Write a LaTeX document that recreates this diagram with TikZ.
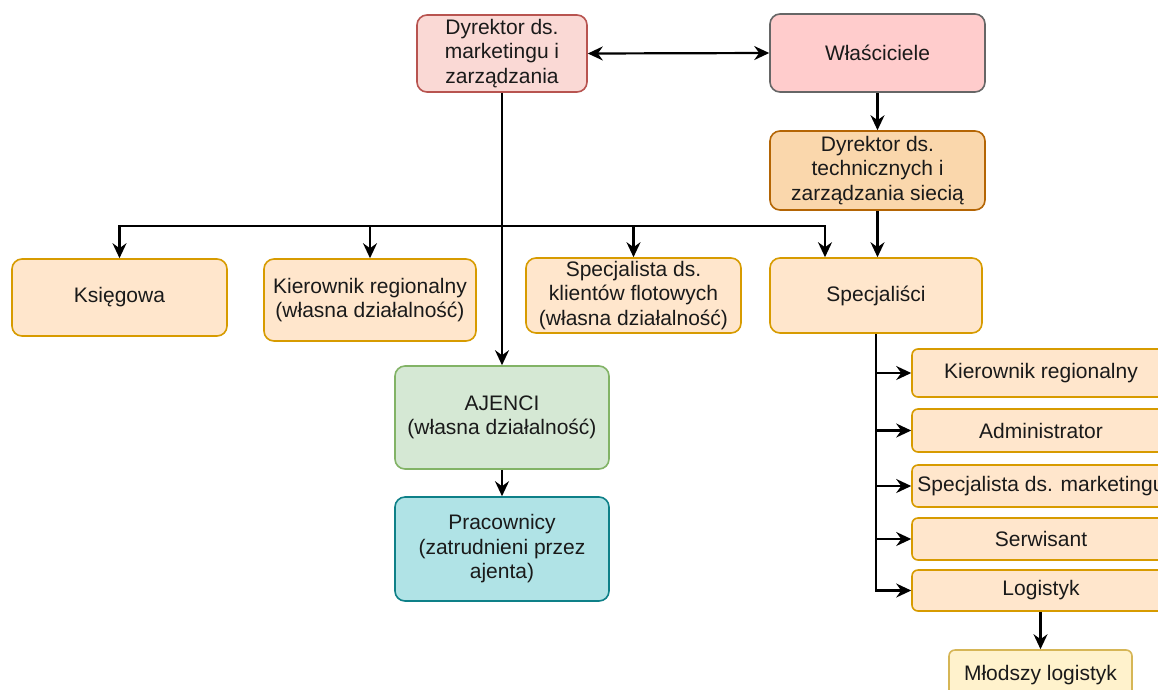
\documentclass[tikz,border=0pt]{standalone}
\usepackage{fontspec}
\setmainfont{Liberation Sans}
\usetikzlibrary{arrows.meta}
\definecolor{dmfill}{HTML}{FAD9D5}\definecolor{dmdraw}{HTML}{B85450}
\definecolor{wlfill}{HTML}{FFCCCC}\definecolor{wldraw}{HTML}{666666}
\definecolor{dtfill}{HTML}{FAD7AC}\definecolor{dtdraw}{HTML}{B46504}
\definecolor{orfill}{HTML}{FFE6CC}\definecolor{ordraw}{HTML}{D79B00}
\definecolor{grfill}{HTML}{D5E8D4}\definecolor{grdraw}{HTML}{82B366}
\definecolor{blfill}{HTML}{B0E3E6}\definecolor{bldraw}{HTML}{0E8088}
\definecolor{ylfill}{HTML}{FFF2CC}\definecolor{yldraw}{HTML}{D6B656}
\definecolor{txt}{HTML}{1A1A1A}
\begin{document}
\begin{tikzpicture}[x=1pt,y=-1pt,
  box/.style={draw, line width=1.6pt, rounded corners=10pt, align=center, inner sep=0pt,
    font=\fontsize{21}{24.5}\selectfont, text=txt},
  sbox/.style={box, rounded corners=6pt},
  line/.style={line width=2.2pt, black},
  arr/.style={line, -{Stealth[length=15pt,width=14pt,inset=5pt]}},
  darr/.style={line, {Stealth[length=15pt,width=14pt,inset=5pt]}-{Stealth[length=15pt,width=14pt,inset=5pt]}}]
\useasboundingbox (0,0) rectangle (1158,689);
\clip (0,0) rectangle (1158,689);
\fill[white] (0,0) rectangle (1158,689);

\node[box, fill=dmfill, draw=dmdraw, minimum width=170pt, minimum height=77pt] (dm) at (502,53.5) {Dyrektor ds.\\marketingu i\\zarządzania};
\node[box, fill=wlfill, draw=wldraw, minimum width=215pt, minimum height=78pt] (wl) at (877.5,53) {Właściciele};
\node[box, fill=dtfill, draw=dtdraw, minimum width=215pt, minimum height=79pt] (dt) at (877.5,170.5) {Dyrektor ds.\\technicznych i\\zarządzania siecią};

\node[box, fill=orfill, draw=ordraw, minimum width=215pt, minimum height=77pt] (ks) at (119.5,297.5) {Księgowa};
\node[box, fill=orfill, draw=ordraw, minimum width=212pt, minimum height=82pt] (kr) at (370,300) {Kierownik regionalny\\(własna działalność)};
\node[box, fill=orfill, draw=ordraw, minimum width=215pt, minimum height=75pt] (sk) at (633.5,295.5) {Specjalista ds.\\klientów flotowych\\(własna działalność)};
\node[box, fill=orfill, draw=ordraw, minimum width=212pt, minimum height=75pt] (sp) at (876,295.5) {Specjaliści};

\node[box, fill=grfill, draw=grdraw, minimum width=214pt, minimum height=103pt] (aj) at (502,417.5) {AJENCI\\(własna działalność)};
\node[box, fill=blfill, draw=bldraw, minimum width=214pt, minimum height=104pt] (pr) at (502,549) {Pracownicy\\(zatrudnieni przez\\ajenta)};

\node[sbox, fill=orfill, draw=ordraw, minimum width=258pt, minimum height=48pt] (r1) at (1041,373) {Kierownik regionalny};
\node[sbox, fill=orfill, draw=ordraw, minimum width=258pt, minimum height=43pt] (r2) at (1041,430.5) {Administrator};
\node[sbox, fill=orfill, draw=ordraw, minimum width=258pt, minimum height=42pt] (r3) at (1041,486) {Specjalista ds. marketingu};
\node[sbox, fill=orfill, draw=ordraw, minimum width=258pt, minimum height=42pt] (r4) at (1041,539) {Serwisant};
\node[sbox, fill=orfill, draw=ordraw, minimum width=258pt, minimum height=41pt] (r5) at (1041,590.5) {Logistyk};
\node[sbox, fill=ylfill, draw=yldraw, minimum width=183pt, minimum height=50pt] (ml) at (1040.5,675) {Młodszy logistyk};

\coordinate (jn) at (502,226);
\draw[darr] (dm.east) -- (wl.west);
\draw[arr] (wl.south) -- (dt.north);
\draw[line] (dm.south) -- (jn);
\draw[arr] (jn) -- (aj.north);
\draw[arr] (jn) -| (ks.north);
\draw[arr] (jn) -| (kr.north);
\draw[arr] (jn) -| (sk.north);
\draw[arr] (jn) -| ([xshift=-51pt]sp.north);
\draw[arr] (dt.south) -- (dt.south |- sp.north);
\draw[arr] (aj.south) -- (pr.north);
\draw[arr] (sp.south) |- (r5.west);
\draw[arr] (sp.south |- r1.west) -- (r1.west);
\draw[arr] (sp.south |- r2.west) -- (r2.west);
\draw[arr] (sp.south |- r3.west) -- (r3.west);
\draw[arr] (sp.south |- r4.west) -- (r4.west);
\draw[arr] (r5.south -| ml.north) -- (ml.north);
\end{tikzpicture}
\end{document}
